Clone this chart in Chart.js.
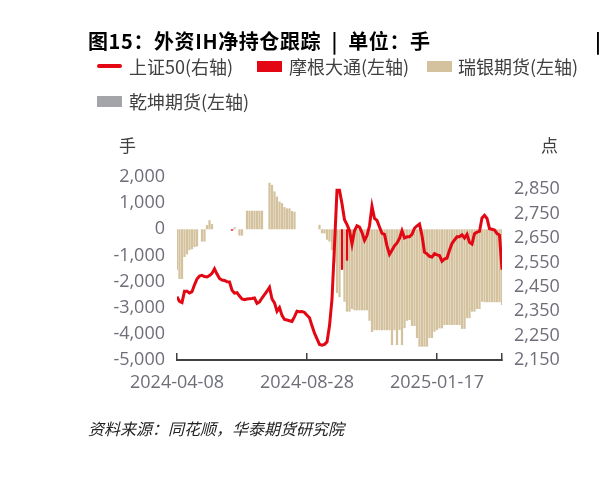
<!DOCTYPE html>
<html><head><meta charset="utf-8">
<script src="https://cdn.jsdelivr.net/npm/chart.js@4.4.1/dist/chart.umd.min.js"></script>
<style>
html,body{margin:0;padding:0;background:#fff;}
body{width:599px;height:477px;position:relative;overflow:hidden;font-family:"Noto Sans CJK SC","Noto Sans",sans-serif;}
#wrap{position:absolute;left:0;top:0;width:599px;height:477px;}
.t{position:absolute;white-space:nowrap;}
#title{left:88px;top:26px;font-size:20px;font-weight:bold;color:#000;letter-spacing:0.6px;}
.lg{position:absolute;font-size:18px;color:#404040;white-space:nowrap;line-height:22px;}
.box{position:absolute;width:25px;height:11px;}
#foot{left:88px;top:416px;font-size:16px;font-style:italic;color:#222;}
.unit{font-size:17px;color:#404040;}
</style></head>
<body>
<div id="wrap"><canvas id="c" width="599" height="477"></canvas></div>
<div class="t" id="title">图15：外资IH净持仓跟踪&nbsp;&nbsp;|&nbsp;&nbsp;单位：手</div>
<div class="t" style="left:595px;top:26px;font-size:20px;font-weight:bold;">|</div>
<div class="box" style="left:97px;top:64px;height:4px;background:#e30613;border-radius:2px;"></div>
<div class="lg" style="left:129px;top:55px;">上证50(右轴)</div>
<div class="box" style="left:257px;top:61px;background:#e30613;"></div>
<div class="lg" style="left:289px;top:55px;">摩根大通(左轴)</div>
<div class="box" style="left:427px;top:61px;background:#d4c29f;"></div>
<div class="lg" style="left:458px;top:55px;">瑞银期货(左轴)</div>
<div class="box" style="left:97px;top:96px;background:#a3a5a8;"></div>
<div class="lg" style="left:129px;top:90px;">乾坤期货(左轴)</div>
<div class="t unit" style="left:119px;top:132px;">手</div>
<div class="t unit" style="left:541px;top:132px;">点</div>
<div class="t" id="foot">资料来源：同花顺，华泰期货研究院</div>
<script>
// x positions are trading-day indices; tick labels at selected indices
const tickIdx = [0, 52, 104, 130];
const tickLabels = ['2024-04-08', '2024-08-28', '2025-01-17', ''];

// 上证50 (right axis, points)
const sz50 = [2409,2390,2385,2432,2432,2425,2430,2458,2482,2494,
2497,2492,2490,2496,2505,2524,2502,2484,2478,2476,
2471,2470,2436,2424,2426,2412,2400,2397,2400,2401,
2402,2404,2382,2388,2404,2418,2432,2448,2400,2384,
2350,2365,2333,2316,2314,2311,2308,2328,2350,2348,
2349,2345,2333,2323,2290,2260,2237,2214,2211,2214,
2224,2290,2400,2620,2846,2846,2790,2725,2705,2680,
2625,2680,2700,2695,2672,2640,2660,2700,2780,2730,
2722,2695,2669,2665,2618,2583,2600,2618,2630,2648,
2680,2650,2655,2655,2665,2690,2700,2707,2660,2592,
2585,2575,2572,2586,2581,2578,2555,2564,2568,2600,
2628,2642,2655,2655,2663,2650,2665,2632,2625,2668,
2674,2677,2732,2743,2730,2688,2686,2683,2668,2662,2520];

// 瑞银期货 (left axis, lots)
const ubs = [-1560,-1900,-1900,-1060,-960,-800,-760,-680,-660,null,
-470,-470,160,350,200,null,null,null,null,null,
null,null,null,80,null,-240,-240,null,710,710,
710,710,710,710,710,null,null,1780,1700,1450,
1250,1060,1000,850,800,800,700,670,null,null,
null,null,null,null,null,null,null,170,-150,-160,
-400,-470,-800,-1250,-2440,-2600,-1400,-2770,-3150,-3150,
-3050,-3100,-3100,-3100,-3100,-3100,-3100,-3500,-3930,-3860,
-3860,-3860,-3860,-3860,-3860,-3860,-4430,-3860,-4430,-3850,
-4430,-3780,-3500,-3470,-3700,-3700,-4160,-4490,-4490,-4490,
-4490,-4160,-4160,-3920,-3850,-3790,-3790,-3660,-3660,-3660,
-3660,-3660,-3660,-3660,-3810,-3810,-3400,-3400,-3150,-3150,
-3050,-3050,-2770,-2790,-2790,-2790,-2790,-2790,-2790,-2790,-2900];

// 摩根大通 (left axis, lots)
const jpm = {22: -50, 66: -1550, 68: -1200};
// 乾坤期货 (left axis, lots) - no visible positions in the window
const qk = {};

const pts = (arr) => arr.map((v, i) => ({x: i, y: v}));
const sparse = (obj) => Object.keys(obj).map(k => ({x: +k, y: obj[k]}));

const tickFont = {family: '"Open Sans","Noto Sans",sans-serif', size: 18};
const tickColor = '#6d6e78';
const barOpts = {grouped: false, barPercentage: 0.9, categoryPercentage: 1};

new Chart(document.getElementById('c'), {
  data: {
    datasets: [
      {type: 'line', label: '上证50(右轴)', data: pts(sz50), yAxisID: 'yR',
       borderColor: '#e30613', borderWidth: 3, pointRadius: 0, tension: 0, order: 0},
      Object.assign({type: 'bar', label: '摩根大通(左轴)', data: sparse(jpm), yAxisID: 'yL',
       backgroundColor: '#e30613', order: 1}, barOpts),
      Object.assign({type: 'bar', label: '瑞银期货(左轴)', data: pts(ubs), yAxisID: 'yL',
       backgroundColor: '#d4c29f', order: 2}, barOpts),
      Object.assign({type: 'bar', label: '乾坤期货(左轴)', data: sparse(qk), yAxisID: 'yL',
       backgroundColor: '#a3a5a8', order: 3}, barOpts)
    ]
  },
  options: {
    responsive: false, animation: false,
    layout: {padding: {left: 100, right: 30, top: 177, bottom: 87}},
    plugins: {legend: {display: false}, tooltip: {enabled: false}},
    scales: {
      x: {type: 'linear', min: 0, max: 130, offset: false,
        afterBuildTicks: (s) => { s.ticks = tickIdx.map(v => ({value: v})); },
        afterFit: (s) => { s.height = 30; },
        ticks: {autoSkip: false, maxRotation: 0, padding: 19, font: tickFont, color: tickColor,
          callback: (v) => { const k = tickIdx.indexOf(v); return k >= 0 ? tickLabels[k] : ''; }},
        grid: {offset: false, drawOnChartArea: false, drawTicks: true, tickLength: -7, color: '#404040', lineWidth: 1.5},
        border: {display: true, color: '#404040', width: 2}
      },
      yL: {position: 'left', min: -5000, max: 2000,
        afterFit: (s) => { s.width = 77; },
        ticks: {stepSize: 1000, padding: 12, font: tickFont, color: tickColor,
          callback: (v) => v.toLocaleString('en-US')},
        grid: {display: false, drawTicks: false}, border: {display: false}
      },
      yR: {position: 'right', min: 2150, max: 2900,
        afterFit: (s) => { s.width = 67; },
        afterBuildTicks: (s) => { const t = []; for (let v = 2150; v <= 2850; v += 100) t.push({value: v}); s.ticks = t; },
        ticks: {padding: 12, font: tickFont, color: tickColor,
          callback: (v) => v.toLocaleString('en-US')},
        grid: {display: false, drawTicks: false}, border: {display: false}
      }
    }
  }
});
</script>
</body></html>
